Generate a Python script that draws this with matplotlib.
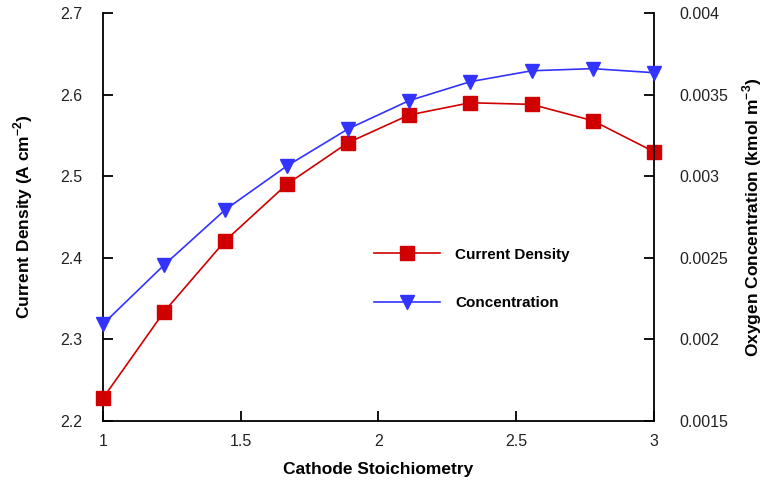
import matplotlib
matplotlib.use("Agg")
import matplotlib.pyplot as plt

plt.rcParams['font.family'] = ['Liberation Sans', 'DejaVu Sans']

stoich = [1.0, 1.222, 1.444, 1.667, 1.889, 2.111, 2.333, 2.556, 2.778, 3.0]
current_density = [2.228, 2.334, 2.421, 2.490, 2.541, 2.575, 2.590, 2.588, 2.568, 2.530]
concentration = [0.002094, 0.002456, 0.002795, 0.003062, 0.003289, 0.003463,
                 0.003579, 0.003646, 0.003659, 0.003634]

red = '#d00000'
blue = '#3333ff'

fig = plt.figure(figsize=(7.64, 4.86), dpi=100)
ax = fig.add_axes([0.1348, 0.1337, 0.856 - 0.1348, 0.9733 - 0.1337])
ax2 = ax.twinx()

ax.plot(stoich, current_density, color=red, lw=1.2, marker='s', ms=9.5,
        mfc=red, mec=red, label='Current Density', zorder=3, clip_on=False)
ax2.plot(stoich, concentration, color=blue, lw=1.2, marker='v', ms=10,
         mfc=blue, mec=blue, label='Concentration', zorder=3, clip_on=False)

ax.set_xlim(1, 3)
ax.set_ylim(2.2, 2.7)
ax2.set_ylim(0.0015, 0.004)
ax.set_xticks([1, 1.5, 2, 2.5, 3])
ax.set_xticklabels(['1', '1.5', '2', '2.5', '3'])
ax.set_yticks([2.2, 2.3, 2.4, 2.5, 2.6, 2.7])
ax.set_yticklabels(['2.2', '2.3', '2.4', '2.5', '2.6', '2.7'])
ax2.set_yticks([0.0015, 0.002, 0.0025, 0.003, 0.0035, 0.004])
ax2.set_yticklabels(['0.0015', '0.002', '0.0025', '0.003', '0.0035', '0.004'])

for a in (ax, ax2):
    a.spines['top'].set_visible(False)
    for s in a.spines.values():
        s.set_linewidth(1.3)
ax.spines['right'].set_visible(False)
ax2.spines['left'].set_visible(False)
ax2.spines['bottom'].set_visible(False)

ax.tick_params(axis='y', direction='in', length=7, width=1.3, pad=15, labelsize=11.5)
ax.tick_params(axis='x', direction='in', length=7, width=1.3, pad=9, labelsize=11.5)
ax2.tick_params(axis='y', direction='in', length=7, width=1.3, pad=18, labelsize=11.5)
for a in (ax, ax2):
    a.tick_params(colors='black', labelcolor='#222222')

ax.set_xlabel('Cathode Stoichiometry', fontsize=12.5, fontweight='bold', labelpad=10)
ax.set_ylabel('Current Density (A cm$^{\\mathregular{-2}}$)', fontsize=12.5, fontweight='bold', labelpad=18)
ax2.set_ylabel('Oxygen Concentration (kmol m$^{\\mathregular{-3}}$)', fontsize=12.5, fontweight='bold', labelpad=9)

handles = [ax.get_lines()[0], ax2.get_lines()[0]]
leg = fig.legend(handles, [h.get_label() for h in handles], loc='upper left',
                 bbox_to_anchor=(0.472, 0.519), frameon=False, handlelength=4.3,
                 handletextpad=1.0, labelspacing=2.25,
                 prop={'size': 11, 'weight': 'bold'})

fig.savefig('out.png', dpi=100)
